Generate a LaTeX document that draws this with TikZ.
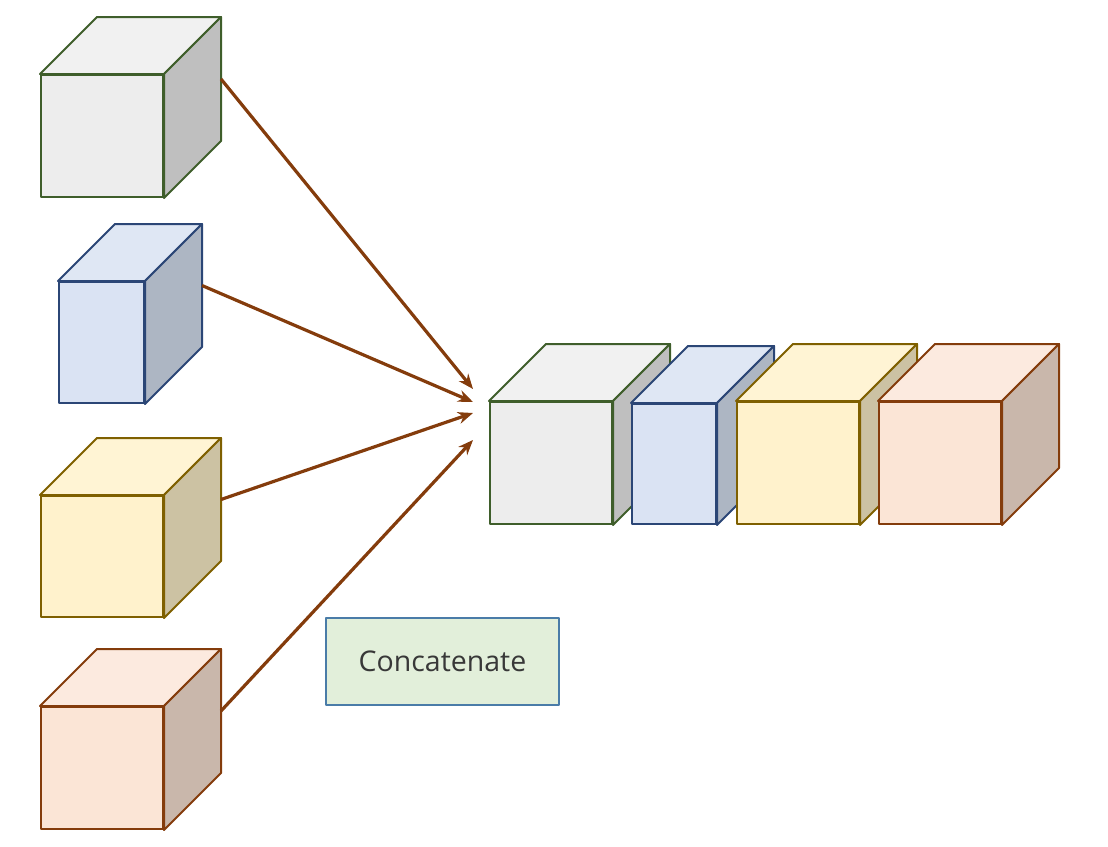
\documentclass[tikz,border=0pt]{standalone}
\usepackage{fontspec}
\setmainfont{Open Sans}
\usetikzlibrary{arrows.meta}

\definecolor{grayfront}{HTML}{EDEDED}
\definecolor{graytop}{HTML}{F1F1F1}
\definecolor{grayside}{HTML}{BFBFBF}
\definecolor{grayline}{HTML}{3F5E2B}
\definecolor{bluefront}{HTML}{DAE3F3}
\definecolor{bluetop}{HTML}{DFE7F4}
\definecolor{blueside}{HTML}{ADB6C3}
\definecolor{blueline}{HTML}{2B4676}
\definecolor{yelfront}{HTML}{FFF2CC}
\definecolor{yeltop}{HTML}{FFF4D4}
\definecolor{yelside}{HTML}{CCC2A3}
\definecolor{yelline}{HTML}{7F6000}
\definecolor{orgfront}{HTML}{FBE5D6}
\definecolor{orgtop}{HTML}{FCEADF}
\definecolor{orgside}{HTML}{C9B7AB}
\definecolor{orgline}{HTML}{843C0C}
\definecolor{boxfill}{HTML}{E2EFDA}
\definecolor{boxline}{HTML}{4A7CA8}
\definecolor{arrowcol}{HTML}{843C0C}
\definecolor{textcol}{HTML}{383838}

% top and side faces of a cube whose front face is node #1
\newcommand{\cubefaces}[4]{
  \draw[#4, fill=#2] (#1.north west) -- ([shift={(57,-57)}]#1.north west)
    -- ([shift={(57,-57)}]#1.north east) -- (#1.north east) -- cycle;
  \draw[#4, fill=#3] (#1.north east) -- ([shift={(57,-57)}]#1.north east)
    -- ([shift={(57,-57)}]#1.south east) -- (#1.south east) -- cycle;
  \coordinate (#1-back) at ([shift={(57,-57)}]#1.east);
}

\begin{document}
\begin{tikzpicture}[x=1pt, y=-1pt, line width=2pt, line join=round]
  \tikzset{front/.style={rectangle, inner sep=0pt, minimum width=122pt, minimum height=122pt},
    link/.style={arrowcol, line width=3.2pt, -{Stealth[length=15pt, width=12pt]}}}
  \useasboundingbox (0,0) rectangle (1108,846);

  % inputs
  \node[front, draw=grayline, fill=grayfront] (in1) at (102,136) {};
  \cubefaces{in1}{graytop}{grayside}{grayline}
  \node[front, draw=blueline, fill=bluefront, minimum width=85pt, minimum height=121pt] (in2) at (101.5,342.5) {};
  \cubefaces{in2}{bluetop}{blueside}{blueline}
  \node[front, draw=yelline, fill=yelfront, minimum height=121pt] (in3) at (102,556.5) {};
  \cubefaces{in3}{yeltop}{yelside}{yelline}
  \node[front, draw=orgline, fill=orgfront] (in4) at (102,768) {};
  \cubefaces{in4}{orgtop}{orgside}{orgline}

  % concatenated output
  \node[front, draw=grayline, fill=grayfront] (out1) at (551,463) {};
  \cubefaces{out1}{graytop}{grayside}{grayline}
  \node[front, draw=blueline, fill=bluefront, minimum width=84pt, minimum height=120pt] (out2) at (674,464) {};
  \cubefaces{out2}{bluetop}{blueside}{blueline}
  \node[front, draw=yelline, fill=yelfront] (out3) at (798,463) {};
  \cubefaces{out3}{yeltop}{yelside}{yelline}
  \node[front, draw=orgline, fill=orgfront] (out4) at (940,463) {};
  \cubefaces{out4}{orgtop}{orgside}{orgline}

  \coordinate (t1) at (473,389);
  \coordinate (t2) at (473,402);
  \coordinate (t3) at (473,413);
  \coordinate (t4) at (473,440);

  \draw[link] (in1-back) -- (t1);
  \draw[link] (in2-back) -- (t2);
  \draw[link] (in3-back) -- (t3);
  \draw[link] (in4-back) -- (t4);

  \node[draw=boxline, fill=boxfill, line width=1.5pt, minimum width=233pt, minimum height=87pt,
    text=textcol, font=\fontsize{28.5}{34}\selectfont] (cat) at (442.5,661.5) {Concatenate};
\end{tikzpicture}
\end{document}
